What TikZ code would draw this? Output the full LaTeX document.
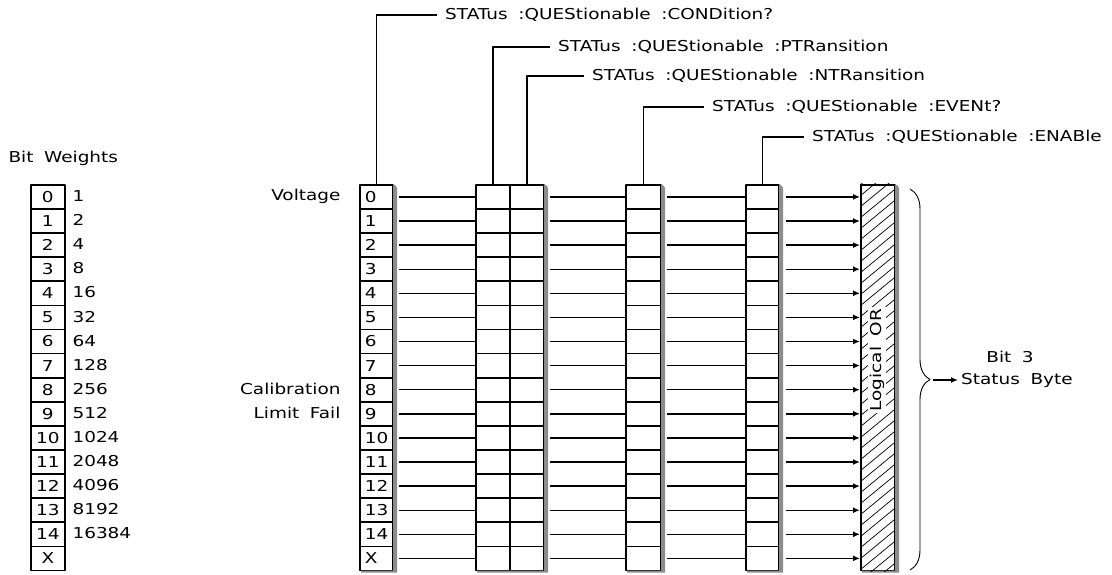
\documentclass[tikz,border=0pt]{standalone}
\usepackage{fontspec}
\setmainfont{DejaVu Sans}[FakeStretch=1.23,WordSpace=1.8]
\usetikzlibrary{arrows.meta,decorations.pathreplacing}

\tikzset{
  cell/.style={draw, line width=1.7pt, minimum width=#1, minimum height=24.1pt,
    inner sep=0pt, anchor=north west},
  numcell/.style={cell=33pt, text width=23pt, inner xsep=5pt},
  wire/.style={line width=1.4pt},
  shadowfill/.style={fill=black!45},
  qlabel/.style={anchor=west, inner xsep=8pt, inner ysep=0pt},
}
\newcommand{\rtop}{184}
\newcommand{\rbot}{569.6}
% grey 3D edge on the right and bottom of a register
\newcommand{\regshadow}[2]{%
  \fill[shadowfill] ({#2+1},{\rtop+1}) -- ({#2+3},{\rtop+1}) -- ({#2+5},{\rtop+4})
    -- ({#2+5},{\rbot+3}) -- ({#1+2},{\rbot+3}) -- ({#1+2},{\rbot+1}) -- ({#2+1},{\rbot+1}) -- cycle;}

\begin{document}
\begin{tikzpicture}[x=1pt, y=-1pt, font=\fontsize{15}{18}\selectfont, line join=round]
  \useasboundingbox (0,0) rectangle (1112,575);

  % Bit weights table
  \node[anchor=west] (bw) at (5,158) {Bit Weights};
  \foreach \b/\w [count=\i from 0] in {0/1,1/2,2/4,3/8,4/16,5/32,6/64,7/128,8/256,
      9/512,10/1024,11/2048,12/4096,13/8192,14/16384,X/} {
    \node[cell=34pt] (bw-\i) at (30,{\rtop+\i*24.1}) {\b};
    \node[anchor=west] (bwv-\i) at (69,{\rtop+(\i+0.5)*24.1}) {\w};
  }

  % registers
  \foreach \b [count=\i from 0] in {0,1,2,3,4,5,6,7,8,9,10,11,12,13,14,X} {
    \node[numcell] (cond-\i) at (359,{\rtop+\i*24.1}) {\b};
    \node[cell=34pt] (ptr-\i) at (475,{\rtop+\i*24.1}) {};
    \node[cell=34pt] (ntr-\i) at (509,{\rtop+\i*24.1}) {};
    \node[cell=35pt] (evt-\i) at (625,{\rtop+\i*24.1}) {};
    \node[cell=33pt] (ena-\i) at (745,{\rtop+\i*24.1}) {};
  }
  \node[cell=34pt, minimum height=385.6pt] (logor) at (860,\rtop) {};
  \regshadow{359}{392}
  \regshadow{475}{543}
  \regshadow{625}{660}
  \regshadow{745}{778}
  \regshadow{860}{894}

  % hatching of the OR block
  \begin{scope}
    \clip (logor.south west) rectangle (logor.north east);
    \foreach \k in {0,...,40}
      \draw[line width=0.7pt] (logor.north west) ++(0,{\k*11-10}) -- ++(34,-28);
  \end{scope}
  \node[rotate=90, fill=white, inner sep=1.5pt] (orlbl) at (877,360) {Logical OR};

  % bit lines
  \foreach \i in {0,...,15} {
    \draw[wire] ([xshift=5pt]cond-\i.east) -- (ptr-\i.west);
    \draw[wire] ([xshift=5pt]ntr-\i.east) -- (evt-\i.west);
    \draw[wire] ([xshift=5pt]evt-\i.east) -- (ena-\i.west);
    \draw[wire, -{Latex[length=7pt,width=6pt]}] ([xshift=6pt]ena-\i.east) -- (ena-\i.east -| logor.west);
  }

  % command labels
  \node[qlabel] (qcond) at (437,15)  {STATus :QUEStionable :CONDition?};
  \node[qlabel] (qptr)  at (550,47)  {STATus :QUEStionable :PTRansition};
  \node[qlabel] (qntr)  at (584,76)  {STATus :QUEStionable :NTRansition};
  \node[qlabel] (qevt)  at (704,107) {STATus :QUEStionable :EVENt?};
  \node[qlabel] (qena)  at (804,137) {STATus :QUEStionable :ENABle};
  \draw[wire] (cond-0.north) |- (qcond.west);
  \draw[wire] (ptr-0.north) |- (qptr.west);
  \draw[wire] (ntr-0.north) |- (qntr.west);
  \draw[wire] (evt-0.north) |- (qevt.west);
  \draw[wire] (ena-0.north) |- (qena.west);

  % bit names
  \node[anchor=east] (volt) at (344,196) {Voltage};
  \node[anchor=east] (cal)  at (344,389) {Calibration};
  \node[anchor=east] (lim)  at (344,413) {Limit Fail};

  % summary bit
  \draw[line width=0.9pt, decorate, decoration={brace, amplitude=20pt}] (910,189) -- (910,570);
  \coordinate (tip) at (933,380);
  \node[anchor=west, inner xsep=3pt, inner ysep=0pt] (sbyte) at (958,380) {Status Byte};
  \node (bit3) at (1010,357) {Bit 3};
  \draw[wire, -{Latex[length=7pt,width=6pt]}] (tip) -- (sbyte.west);
\end{tikzpicture}
\end{document}
